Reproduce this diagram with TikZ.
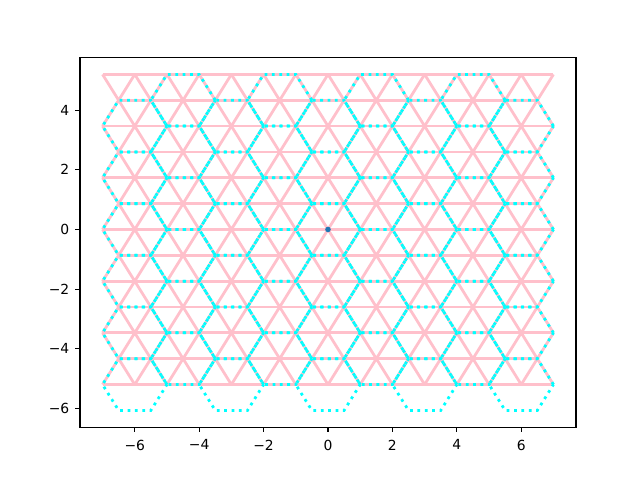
\documentclass[tikz,border=0pt]{standalone}
\usepackage{fontspec}
\setmainfont{DejaVu Sans}
\usepackage{tikz}
\usetikzlibrary{calc}
\definecolor{blush}{RGB}{255,192,203}
\definecolor{aquacyan}{RGB}{0,255,255}
\definecolor{steel}{RGB}{31,119,180}

\begin{document}
\begin{tikzpicture}[x=23.19pt,y=21.488pt]
    \useasboundingbox (-10.1839,-8.3943) rectangle (9.6871,7.6891);
    \foreach \j in {-6,...,6}
    {
      \pgfmathsetmacro{\e}{7-0.5*mod(\j+12,2)}
      \draw[blush,line width=2pt] (-\e,{\j*sqrt(3)/2}) -- (\e,{\j*sqrt(3)/2});
    }
    \foreach \j in {-6,...,5}
    {
      \draw[blush,line width=2pt,line join=round] (-7,{(\j+mod(\j+12,2))*sqrt(3)/2})
        \foreach \k in {1,...,28} { -- ({-7+0.5*\k},{(\j+mod(\k+\j+12,2))*sqrt(3)/2}) };
    }
    \foreach \a in {-4,...,4}
    {
      \foreach \b in {-6,...,5}
      {
        \pgfmathtruncatemacro{\odd}{mod(\a+\b+20,2)}
        \pgfmathsetmacro{\cx}{1.5*\a}
        \pgfmathsetmacro{\cy}{\b*sqrt(3)/2}
        \ifnum\odd=0
          \draw[aquacyan,line width=2pt,dash pattern=on 2pt off 3.3pt,shift={(\cx,\cy)}]
            (1,0) -- (0.5,0.866025) -- (-0.5,0.866025) -- (-1,0) -- (-0.5,-0.866025) -- (0.5,-0.866025) -- cycle;
        \fi
      }
    }
    \fill[steel] (0,0) circle[radius=2pt];
    \draw[line width=0.8pt] (-7.7,-6.6251) rectangle (7.7,5.7591);
    \foreach \t/\s [count=\i] in {-6/−6,-4/−4,-2/−2,0/0,2/2,4/4,6/6}
    {
      \draw[line width=0.8pt] (\t,-6.6251) -- ++(0,-3.5pt);
      \node[anchor=north,inner sep=0pt,font=\fontsize{10}{12}\selectfont] (xt\i) at ([yshift=-8.8pt]\t,-6.6251) {\s};
    }
    \foreach \t/\s [count=\i] in {-6/−6,-4/−4,-2/−2,0/0,2/2,4/4}
    {
      \draw[line width=0.8pt] (-7.7,\t) -- ++(-3.5pt,0);
      \node[anchor=east,inner sep=0pt,font=\fontsize{10}{12}\selectfont] (yt\i) at ([xshift=-7.5pt]-7.7,\t) {\s};
    }
  \end{tikzpicture}
\end{document}
